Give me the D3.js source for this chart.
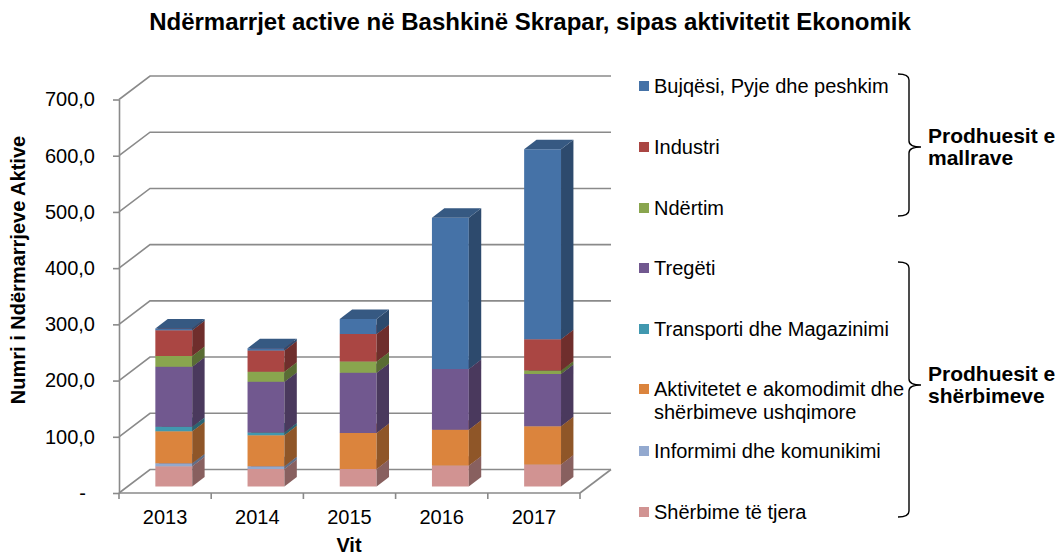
<!DOCTYPE html>
<html><head><meta charset="utf-8">
<script src="https://cdn.jsdelivr.net/npm/d3@7"></script>
<style>
html,body{margin:0;padding:0;background:#fff;}
svg{display:block;font-family:"Liberation Sans",Arial,sans-serif;}
</style></head>
<body><svg id="c" width="1062" height="556"></svg>
<script>
// ---- data ----
const years = ["2013","2014","2015","2016","2017"];
const seriesNames = ["Shërbime të tjera","Informimi dhe komunikimi","Aktivitetet e akomodimit dhe shërbimeve ushqimore","Transporti dhe Magazinimi","Tregëti","Ndërtim","Industri","Bujqësi, Pyje dhe peshkim"];
const sherbime   = [36, 31, 31, 37, 39];
const informimi  = [5, 5, 0, 0, 0];
const akomodimi  = [57, 55, 64, 64, 68];
const transporti = [8, 5, 0, 0, 0];
const tregeti    = [107, 90, 107, 108, 93];
const ndertim    = [19, 18, 20, 0, 6];
const industri   = [46, 38, 49, 0, 56];
const bujqesi    = [3, 4, 27, 269, 338];
const seriesColors = ["#D19392","#93A9CF","#DB843D","#4198AF","#71588F","#89A54E","#AA4643","#4572A7"];
const yTicks = [0,100,200,300,400,500,600,700];
const legendOrder = [7,6,5,4,3,2,1,0];
const groupLabels = [["Prodhuesit e","mallrave"],["Prodhuesit e","shërbimeve"]];

const seriesValues = [sherbime, informimi, akomodimi, transporti, tregeti, ndertim, industri, bujqesi];

// ---- layout ----
const svg = d3.select("#c");
const x0 = 119, x1 = 580, yBot = 493, yTop = 99.5;
const D = [31, -23.5];          // wall depth
const f0 = 0.28, fd = 0.40;      // bar front offset, bar depth (fractions of wall depth)

const x = d3.scaleBand().domain(years).range([x0, x1]).paddingInner(0.6).paddingOuter(0.3);
const y = d3.scaleLinear().domain([0, 700]).range([yBot, yTop]);

const gridColor = "#8a8a8a";

// gridlines (left wall diagonal + back wall)
const grid = svg.append("g");
yTicks.forEach(v => {
  const yy = y(v);
  grid.append("path")
    .attr("d", `M${x0},${yy}L${x0 + D[0]},${yy + D[1]}L${x1 + D[0]},${yy + D[1]}`)
    .attr("fill", "none").attr("stroke", gridColor).attr("stroke-width", 1.6);
});
// floor right edge
grid.append("path")
  .attr("d", `M${x1},${yBot}L${x1 + D[0]},${yBot + D[1]}`)
  .attr("fill", "none").attr("stroke", gridColor).attr("stroke-width", 1.6);

// y axis
const fmt = v => v === 0 ? "-" : d3.format(".1f")(v).replace(".", ",");
const yAxis = svg.append("g").attr("transform", `translate(${x0},0)`)
  .call(d3.axisLeft(y).tickValues(yTicks).tickFormat(fmt).tickSize(6).tickSizeOuter(0).tickPadding(18));
yAxis.select(".domain").attr("stroke", gridColor).attr("stroke-width", 1.6);
yAxis.selectAll(".tick line").attr("stroke", gridColor).attr("stroke-width", 1.6);
yAxis.selectAll(".tick text").attr("font-size", 20).attr("fill", "#000")
  .attr("font-family", "Liberation Sans, Arial, sans-serif")
  .attr("dx", v => v === 0 ? -9 : 0);

// x axis (front floor line, ticks at band boundaries)
const bounds = years.map(d => x(d) - x.step() * x.paddingInner() / 2);
bounds[0] = x0; bounds.push(x1);
svg.append("line").attr("x1", x0).attr("x2", x1).attr("y1", yBot).attr("y2", yBot)
  .attr("stroke", gridColor).attr("stroke-width", 1.6);
svg.append("g").selectAll("line").data(bounds).join("line")
  .attr("x1", d => d).attr("x2", d => d).attr("y1", yBot).attr("y2", yBot + 6)
  .attr("stroke", gridColor).attr("stroke-width", 1.6);
svg.append("g").selectAll("text").data(years).join("text")
  .attr("x", d => x(d) + x.bandwidth() / 2).attr("y", 524)
  .attr("text-anchor", "middle").attr("font-size", 20).text(d => d);

// bars
const fx = D[0] * f0, fy = D[1] * f0, dx = D[0] * fd, dy = D[1] * fd;
const bars = svg.append("g");
years.forEach((yr, i) => {
  let cum = 0;
  const bx = x(yr) + fx, bw = x.bandwidth();
  seriesValues.forEach((vals, s) => {
    const v = vals[i];
    if (v <= 0) return;
    const yb = y(cum) + fy, yt = y(cum + v) + fy;
    cum += v;
    const c = d3.rgb(seriesColors[s]);
    const side = c.darker(1.2), top = c.darker(0.7);
    bars.append("path").attr("d", `M${bx},${yb}L${bx + bw},${yb}L${bx + bw},${yt}L${bx},${yt}Z`).attr("fill", c);
    bars.append("path").attr("d", `M${bx + bw},${yb}L${bx + bw + dx},${yb + dy}L${bx + bw + dx},${yt + dy}L${bx + bw},${yt}Z`).attr("fill", side);
    bars.append("path").attr("d", `M${bx},${yt}L${bx + bw},${yt}L${bx + bw + dx},${yt + dy}L${bx + dx},${yt + dy}Z`).attr("fill", top);
  });
});

// title & axis titles
svg.append("text").attr("x", 530).attr("y", 30).attr("text-anchor", "middle")
  .attr("font-size", 24).attr("font-weight", "bold").text("Ndërmarrjet active në Bashkinë Skrapar, sipas aktivitetit Ekonomik");
svg.append("text").attr("transform", "translate(25,270) rotate(-90)").attr("text-anchor", "middle")
  .attr("font-size", 20).attr("font-weight", "bold").text("Numri i Ndërmarrjeve Aktive");
svg.append("text").attr("x", 349).attr("y", 552).attr("text-anchor", "middle")
  .attr("font-size", 20).attr("font-weight", "bold").text("Vit");

// legend
const legendY = [86, 147, 208, 268, 329, 389, 451, 512];
const lg = svg.append("g");
legendOrder.forEach((s, k) => {
  const ly = legendY[k];
  lg.append("rect").attr("x", 639).attr("y", ly - 5).attr("width", 10).attr("height", 10).attr("fill", seriesColors[s]);
  const name = seriesNames[s];
  if (s === 2) {
    const t = lg.append("text").attr("x", 654).attr("y", ly + 7).attr("font-size", 20);
    t.append("tspan").attr("x", 654).text("Aktivitetet e akomodimit dhe");
    t.append("tspan").attr("x", 654).attr("dy", 23).text("shërbimeve ushqimore");
  } else {
    lg.append("text").attr("x", 654).attr("y", ly + 7).attr("font-size", 20).text(name);
  }
});

// braces
function brace(top, bot, mid, xv) {
  return `M${xv - 11},${top} Q${xv},${top} ${xv},${top + 6} L${xv},${mid - 6} Q${xv},${mid} ${xv + 12},${mid} Q${xv},${mid} ${xv},${mid + 6} L${xv},${bot - 6} Q${xv},${bot} ${xv - 11},${bot}`;
}
const braces = [[74, 216, 147], [262, 517, 385]];
braces.forEach((b, k) => {
  svg.append("path").attr("d", brace(b[0], b[1], b[2], 909)).attr("fill", "none").attr("stroke", "#000").attr("stroke-width", 1.4);
  const t = svg.append("text").attr("x", 928).attr("y", b[2] - 4).attr("font-size", 21).attr("font-weight", "bold");
  t.append("tspan").attr("x", 928).text(groupLabels[k][0]);
  t.append("tspan").attr("x", 928).attr("dy", 22).text(groupLabels[k][1]);
});
</script>
</body></html>
